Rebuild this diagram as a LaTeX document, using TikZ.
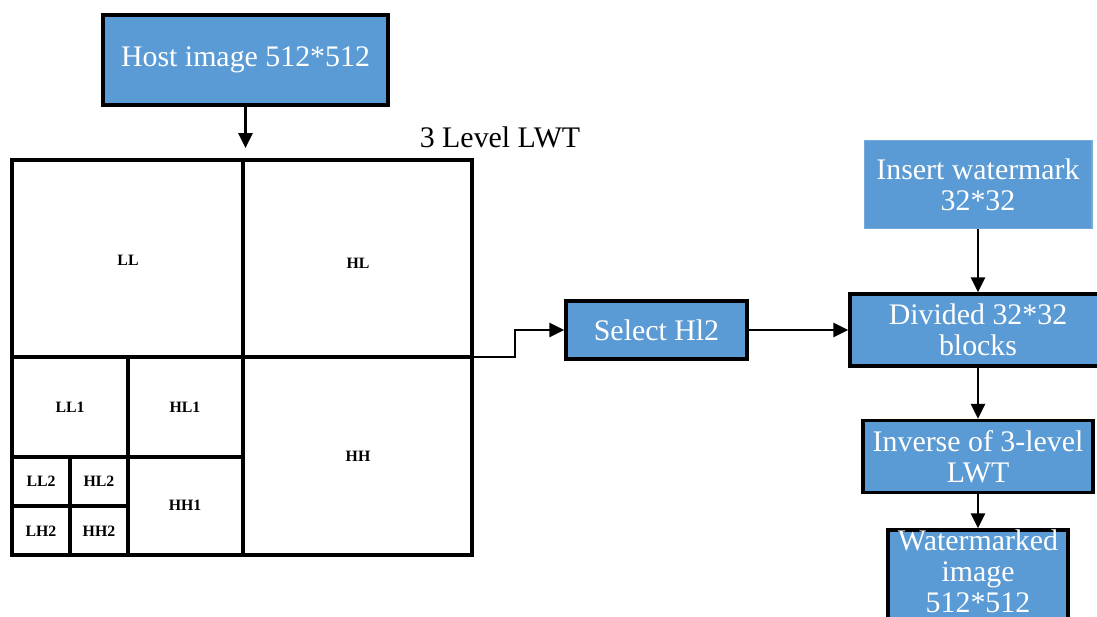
\documentclass[tikz,border=0pt]{standalone}
\usepackage{fontspec}
\setmainfont{Liberation Serif}
\usetikzlibrary{arrows.meta,positioning}

\definecolor{boxblue}{HTML}{5B9BD5}
\tikzset{
  blk/.style={draw=black,line width=2pt,fill=boxblue,text=white,align=center,
    inner sep=0pt,font=\fontsize{17}{17.6}\selectfont},
  wmbox/.style={blk,draw=boxblue!85!white,line width=0.6pt},
  arr/.style={-{Triangle[length=8.5pt,width=8pt]},line width=1.4pt},
  cell/.style={line width=2pt},
  sub/.style={font=\fontsize{9}{10}\selectfont\bfseries}
}

\begin{document}
\begin{tikzpicture}[x=0.02cm,y=-0.02cm]
\useasboundingbox (0,0) rectangle (1097,617);

% left part: host image and 3 level LWT
\node[blk,minimum width=5.7cm,minimum height=1.8cm] (host) at (245.5,60) {Host image 512*512};
\node[font=\fontsize{17}{17.6}\selectfont] (lwt) at (500,137) {3 Level LWT};

\draw[cell] (12,160) rectangle (472,555);
\draw[cell] (243,160) -- (243,555);
\draw[cell] (12,357) -- (472,357);
\draw[cell] (128,357) -- (128,555);
\draw[cell] (12,457) -- (243,457);
\draw[cell] (70,457) -- (70,555);
\draw[cell] (12,506) -- (128,506);

\node[sub] (ll)  at (128,260) {LL};
\node[sub] (hl)  at (358,263) {HL};
\node[sub] (hh)  at (358,456) {HH};
\node[sub] (ll1) at (70,407)  {LL1};
\node[sub] (hl1) at (185,407) {HL1};
\node[sub] (hh1) at (185,505) {HH1};
\node[sub] (ll2) at (41,481)  {LL2};
\node[sub] (hl2) at (99,481)  {HL2};
\node[sub] (lh2) at (41,531)  {LH2};
\node[sub] (hh2) at (99,531)  {HH2};

\coordinate (gridtop) at (245.5,160);
\coordinate (gridout) at (472,357);

% right part
\node[blk,minimum width=3.62cm,minimum height=1.16cm] (sel) at (656.5,330) {Select Hl2};
\node[blk,minimum width=5.12cm,minimum height=1.44cm] (div) at (978,330) {Divided 32*32\\blocks};
\node[wmbox,minimum width=4.56cm,minimum height=1.76cm,above=1.26cm of div] (ins) {Insert watermark\\32*32};
\node[blk,minimum width=4.6cm,minimum height=1.44cm,below=1.02cm of div] (inv) {Inverse of 3-level\\LWT};
\node[blk,minimum width=3.6cm,text depth=0.4cm,below=0.68cm of inv] (wmk) {Watermarked\\image\\512*512};

% connectors
\draw[arr,shorten >=0.24cm] (host) -- (gridtop);
\draw[arr] (gridout) -- ++(43,0) |- (sel.west);
\draw[arr] (sel) -- (div);
\draw[arr] (ins) -- (div);
\draw[arr] (div) -- (inv);
\draw[arr] (inv) -- (wmk);
\end{tikzpicture}
\end{document}
